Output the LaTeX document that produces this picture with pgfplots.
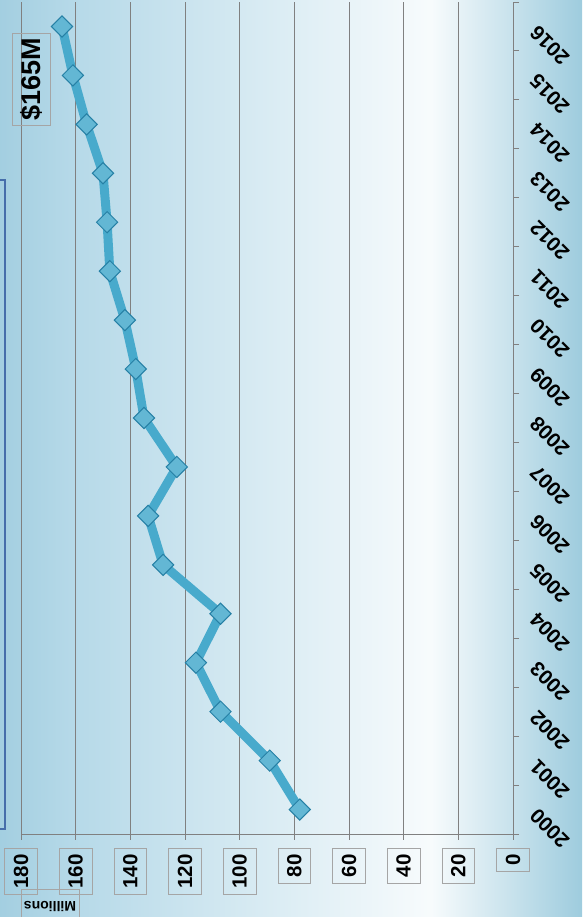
\documentclass[border=0pt]{standalone}
\usepackage{pgfplots}
\pgfplotsset{compat=1.18}
\usepackage{fontspec}
\setmainfont{Liberation Sans}
\definecolor{aqua}{RGB}{72,170,204}
\definecolor{aquadark}{RGB}{38,128,165}
\definecolor{gridgray}{RGB}{128,128,128}
\definecolor{boxgray}{RGB}{165,165,165}
\definecolor{edgeblue}{RGB}{70,110,170}
\pgfdeclarehorizontalshading{bgshade}{100bp}{rgb(0bp)=(0.64,0.81,0.88); rgb(25bp)=(0.64,0.81,0.88); rgb(31bp)=(0.71,0.85,0.91); rgb(62bp)=(0.97,0.985,0.99); rgb(75bp)=(0.62,0.80,0.87); rgb(100bp)=(0.62,0.80,0.87)}
\begin{document}
\begin{tikzpicture}
\path[use as bounding box] (0pt,0pt) rectangle (582pt,917pt);
\clip (0pt,0pt) rectangle (582pt,917pt);
\shade[shading=bgshade] (0pt,0pt) rectangle (582pt,917pt);
\draw[edgeblue, line width=1.2pt] (-10pt,88pt) rectangle (5pt,737pt);
\begin{axis}[at={(21pt,83pt)}, anchor=south west, width=492pt, height=832pt, scale only axis,
  xmin=0, xmax=180, x dir=reverse, ymin=1999.5, ymax=2016.5,
  axis line style={draw=none},
  xtick={0,20,...,180},
  xticklabels={0,20,40,60,80,100,120,140,160,180},
  xmajorgrids, grid style={gridgray, line width=0.9pt},
  tick style={gridgray, line width=0.9pt},
  tick align=outside, major tick length=6pt,
  xtick pos=bottom, xticklabel pos=bottom,
  xticklabel style={rotate=90, anchor=east, draw=boxgray, line width=0.8pt, inner xsep=6pt, inner ysep=9pt, font=\fontsize{20.5}{24}\selectfont\bfseries, text=black},
  xticklabel shift=8pt,
  ytick={1999.5,2000.5,...,2016.5}, yticklabels={},
  ytick pos=right, yticklabel pos=right,
  yticklabel shift=18pt,
  extra y ticks={2000,2001,2002,2003,2004,2005,2006,2007,2008,2009,2010,2011,2012,2013,2014,2015,2016},
  extra y tick labels={2000,2001,2002,2003,2004,2005,2006,2007,2008,2009,2010,2011,2012,2013,2014,2015,2016},
  extra y tick style={major tick length=0pt, yticklabel style={rotate=135, anchor=east, font=\fontsize{20.5}{24}\selectfont\bfseries, text=black}},
  clip=false,
]
\draw[gridgray, line width=0.9pt] (axis cs:180,1999.5) -- (axis cs:0,1999.5) -- (axis cs:0,2016.5);
\addplot[aqua, line width=9pt, mark=square*, mark size=7.5pt,
  mark options={rotate=45, fill=aqua!85!white, draw=aquadark, line width=1pt}]
  coordinates {
  (78,2000) (89,2001) (107,2002) (116,2003) (107,2004) (128,2005) (133.5,2006)
  (123,2007) (135,2008) (138,2009) (142,2010) (147.5,2011) (148.5,2012)
  (150,2013) (156,2014) (161,2015) (165,2016)
  };
\end{axis}
\node[draw=boxgray, line width=0.8pt, rotate=90, font=\fontsize{27}{30}\selectfont\bfseries, inner xsep=5pt, inner ysep=8pt] at (31.5pt,837.5pt) {\$165M};
\node[draw=boxgray, line width=0.8pt, rotate=180, font=\fontsize{14}{16}\selectfont\bfseries, inner xsep=3pt, inner ysep=12pt] at (50pt,10pt) {Millions};
\end{tikzpicture}
\end{document}
